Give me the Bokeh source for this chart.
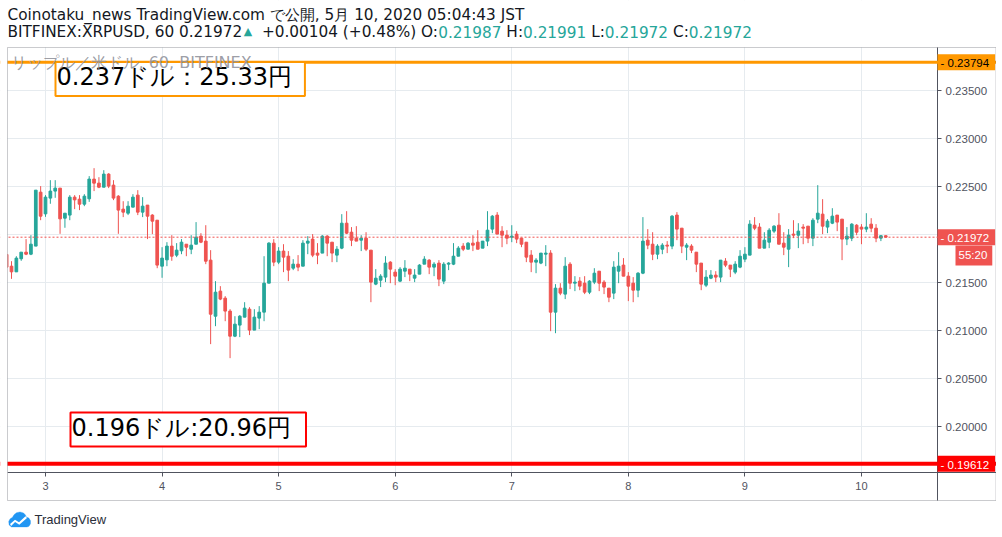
from bokeh.plotting import figure
from bokeh.models import (Range1d, FixedTicker, PrintfTickFormatter, Span, Label,
                          BoxAnnotation, PolyAnnotation, ColumnDataSource)
from bokeh.embed import file_html
from bokeh.resources import INLINE

# ---------------- data (hourly candles, hour 0 = May 3 00:00 JST) ----------------
hours = list(range(-8, 174))

opens = [
    0.21792, 0.21670, 0.21611, 0.21747, 0.21816, 0.21795, 0.21879, 0.22441, 0.22215, 0.22379,
    0.22452, 0.22483, 0.22170, 0.22202, 0.22389, 0.22368, 0.22316, 0.22372, 0.22577, 0.22535,
    0.22493, 0.22629, 0.22514, 0.22399, 0.22264, 0.22222, 0.22285, 0.22410, 0.22233, 0.22306,
    0.22202, 0.22149, 0.21670, 0.21736, 0.21879, 0.21785, 0.21830, 0.21899, 0.21847, 0.21899,
    0.21983, 0.21931, 0.21733, 0.21149, 0.21410, 0.21337, 0.21202, 0.20941, 0.21056, 0.21139,
    0.21222, 0.21004, 0.21129, 0.21191, 0.21493, 0.21910, 0.21712, 0.21827, 0.21774, 0.21649,
    0.21691, 0.21670, 0.21910, 0.21952, 0.21806, 0.21806, 0.21983, 0.21920, 0.21785, 0.21858,
    0.22118, 0.22024, 0.21962, 0.21941, 0.21962, 0.21837, 0.21483, 0.21524, 0.21556, 0.21712,
    0.21608, 0.21514, 0.21618, 0.21639, 0.21545, 0.21587, 0.21691, 0.21733, 0.21660, 0.21702,
    0.21514, 0.21691, 0.21691, 0.21774, 0.21879, 0.21847, 0.21910, 0.21920, 0.21858, 0.21931,
    0.22056, 0.22202, 0.22035, 0.21993, 0.21972, 0.22004, 0.21962, 0.21920, 0.21785, 0.21712,
    0.21702, 0.21795, 0.21806, 0.21191, 0.21441, 0.21379, 0.21691, 0.21493, 0.21514, 0.21493,
    0.21399, 0.21504, 0.21618, 0.21504, 0.21441, 0.21389, 0.21618, 0.21681, 0.21566, 0.21493,
    0.21420, 0.21597, 0.21941, 0.21899, 0.21795, 0.21847, 0.21889, 0.21879, 0.22202, 0.22066,
    0.21868, 0.21879, 0.21816, 0.21702, 0.21472, 0.21545, 0.21577, 0.21556, 0.21722, 0.21681,
    0.21608, 0.21660, 0.21743, 0.21785, 0.22097, 0.22077, 0.21858, 0.21920, 0.22035, 0.22097,
    0.21910, 0.21847, 0.22004, 0.21993, 0.22077, 0.22087, 0.21962, 0.22160, 0.22212, 0.22077,
    0.22118, 0.22202, 0.22160, 0.21952, 0.21962, 0.22097, 0.22077, 0.22056, 0.22108, 0.22066,
    0.21962, 0.21987,
]
highs = [
    0.21792, 0.21722, 0.21774, 0.21816, 0.21952, 0.21993, 0.22462, 0.22504, 0.22410, 0.22566,
    0.22566, 0.22483, 0.22222, 0.22410, 0.22410, 0.22410, 0.22420, 0.22608, 0.22691, 0.22597,
    0.22670, 0.22639, 0.22566, 0.22410, 0.22347, 0.22347, 0.22420, 0.22462, 0.22389, 0.22306,
    0.22212, 0.22149, 0.21868, 0.21920, 0.21993, 0.21910, 0.21952, 0.21899, 0.21993, 0.22129,
    0.22014, 0.22097, 0.21837, 0.21514, 0.21462, 0.21358, 0.21222, 0.21149, 0.21160, 0.21295,
    0.21243, 0.21222, 0.21254, 0.21774, 0.21920, 0.21952, 0.21868, 0.21899, 0.21827, 0.21743,
    0.21785, 0.21941, 0.21983, 0.22004, 0.21910, 0.21993, 0.21993, 0.21920, 0.21879, 0.22212,
    0.22243, 0.22077, 0.22087, 0.21993, 0.22024, 0.21837, 0.21639, 0.21587, 0.21774, 0.21722,
    0.21639, 0.21660, 0.21733, 0.21639, 0.21639, 0.21691, 0.21774, 0.21743, 0.21712, 0.21733,
    0.21712, 0.21712, 0.21910, 0.21879, 0.21910, 0.21920, 0.21993, 0.22045, 0.21931, 0.22243,
    0.22202, 0.22233, 0.22087, 0.22045, 0.22097, 0.22035, 0.21962, 0.21920, 0.21837, 0.21754,
    0.21806, 0.21889, 0.21837, 0.21483, 0.21493, 0.21764, 0.21712, 0.21566, 0.21556, 0.21566,
    0.21524, 0.21649, 0.21618, 0.21524, 0.21441, 0.21722, 0.21816, 0.21754, 0.21608, 0.21556,
    0.21608, 0.22181, 0.22056, 0.22024, 0.21899, 0.21910, 0.21931, 0.22202, 0.22233, 0.22066,
    0.21910, 0.21899, 0.21816, 0.21702, 0.21629, 0.21629, 0.21618, 0.21733, 0.21754, 0.21681,
    0.21722, 0.21837, 0.21868, 0.22149, 0.22181, 0.22118, 0.22024, 0.22066, 0.22097, 0.22222,
    0.22024, 0.22056, 0.22149, 0.22118, 0.22108, 0.22087, 0.22170, 0.22514, 0.22368, 0.22160,
    0.22274, 0.22202, 0.22160, 0.22077, 0.22118, 0.22108, 0.22108, 0.22222, 0.22170, 0.22108,
    0.21993, 0.21991,
]
lows = [
    0.21660, 0.21538, 0.21611, 0.21726, 0.21785, 0.21785, 0.21879, 0.22149, 0.22184, 0.22320,
    0.22382, 0.22007, 0.22070, 0.22149, 0.22264, 0.22254, 0.22295, 0.22340, 0.22452, 0.22483,
    0.22493, 0.22483, 0.22358, 0.22007, 0.22181, 0.22202, 0.22285, 0.22202, 0.22181, 0.21952,
    0.22004, 0.21649, 0.21549, 0.21670, 0.21726, 0.21764, 0.21795, 0.21774, 0.21795, 0.21899,
    0.21910, 0.21691, 0.20858, 0.21045, 0.21316, 0.21097, 0.20712, 0.20931, 0.20931, 0.21139,
    0.20952, 0.21004, 0.21014, 0.21097, 0.21493, 0.21670, 0.21691, 0.21608, 0.21514, 0.21629,
    0.21618, 0.21670, 0.21795, 0.21764, 0.21691, 0.21806, 0.21774, 0.21712, 0.21712, 0.21847,
    0.22004, 0.21879, 0.21931, 0.21827, 0.21827, 0.21295, 0.21472, 0.21452, 0.21504, 0.21493,
    0.21472, 0.21504, 0.21556, 0.21514, 0.21504, 0.21587, 0.21691, 0.21587, 0.21566, 0.21462,
    0.21483, 0.21629, 0.21681, 0.21774, 0.21827, 0.21847, 0.21827, 0.21847, 0.21858, 0.21879,
    0.22014, 0.22004, 0.21868, 0.21899, 0.21920, 0.21910, 0.21868, 0.21712, 0.21608, 0.21597,
    0.21691, 0.21670, 0.20993, 0.20972, 0.21368, 0.21327, 0.21431, 0.21410, 0.21420, 0.21379,
    0.21379, 0.21483, 0.21410, 0.21379, 0.21295, 0.21327, 0.21493, 0.21566, 0.21306, 0.21295,
    0.21347, 0.21587, 0.21847, 0.21733, 0.21743, 0.21795, 0.21806, 0.21847, 0.21941, 0.21806,
    0.21733, 0.21806, 0.21608, 0.21420, 0.21452, 0.21535, 0.21504, 0.21504, 0.21660, 0.21556,
    0.21587, 0.21649, 0.21712, 0.21785, 0.22045, 0.21858, 0.21858, 0.21858, 0.22014, 0.21899,
    0.21785, 0.21660, 0.21962, 0.21858, 0.21899, 0.21910, 0.21879, 0.22118, 0.22004, 0.22014,
    0.22108, 0.22035, 0.21733, 0.21889, 0.21931, 0.21993, 0.21899, 0.22024, 0.22024, 0.21920,
    0.21931, 0.21972,
]
closes = [
    0.21660, 0.21611, 0.21754, 0.21816, 0.21795, 0.21899, 0.22462, 0.22191, 0.22389, 0.22452,
    0.22483, 0.22163, 0.22222, 0.22389, 0.22361, 0.22316, 0.22399, 0.22577, 0.22535, 0.22493,
    0.22629, 0.22504, 0.22379, 0.22254, 0.22233, 0.22295, 0.22389, 0.22233, 0.22295, 0.22191,
    0.22139, 0.21681, 0.21754, 0.21879, 0.21774, 0.21837, 0.21920, 0.21868, 0.21889, 0.21972,
    0.21920, 0.21722, 0.21170, 0.21399, 0.21327, 0.21202, 0.20941, 0.21066, 0.21149, 0.21233,
    0.21004, 0.21139, 0.21191, 0.21493, 0.21910, 0.21712, 0.21827, 0.21764, 0.21629, 0.21691,
    0.21660, 0.21910, 0.21931, 0.21785, 0.21785, 0.21983, 0.21910, 0.21806, 0.21847, 0.22118,
    0.22014, 0.21941, 0.21931, 0.21962, 0.21847, 0.21504, 0.21545, 0.21566, 0.21702, 0.21639,
    0.21566, 0.21639, 0.21649, 0.21587, 0.21577, 0.21681, 0.21743, 0.21660, 0.21691, 0.21535,
    0.21691, 0.21702, 0.21774, 0.21858, 0.21847, 0.21910, 0.21889, 0.21847, 0.21931, 0.22045,
    0.22191, 0.22004, 0.21993, 0.21962, 0.21983, 0.21952, 0.21899, 0.21764, 0.21712, 0.21733,
    0.21806, 0.21806, 0.21191, 0.21441, 0.21389, 0.21670, 0.21493, 0.21504, 0.21462, 0.21399,
    0.21514, 0.21597, 0.21493, 0.21452, 0.21347, 0.21660, 0.21670, 0.21566, 0.21462, 0.21420,
    0.21597, 0.21931, 0.21889, 0.21795, 0.21879, 0.21889, 0.21879, 0.22191, 0.22056, 0.21879,
    0.21889, 0.21837, 0.21691, 0.21483, 0.21556, 0.21577, 0.21556, 0.21733, 0.21681, 0.21639,
    0.21691, 0.21774, 0.21795, 0.22108, 0.22066, 0.21858, 0.21941, 0.22045, 0.22087, 0.21899,
    0.21868, 0.21993, 0.21993, 0.22035, 0.22066, 0.21962, 0.22149, 0.22222, 0.22087, 0.22139,
    0.22191, 0.22129, 0.21952, 0.21983, 0.22108, 0.22024, 0.22056, 0.22077, 0.22066, 0.21962,
    0.21987, 0.21972,
]

day_ticks = [0, 24, 48, 72, 96, 120, 144, 168]
day_labels = ["3", "4", "5", "6", "7", "8", "9", "10"]
price_ticks = [0.200, 0.205, 0.210, 0.215, 0.220, 0.225, 0.230, 0.235]

resistance_level = 0.23794
support_level = 0.19612
resistance_note = "0.237ドル：25.33円"
support_note = "0.196ドル:20.96円"
timer_text = "55:20"
watermark_text = "リップル／米ドル, 60, BITFINEX"
header_line1 = "Coinotaku_news TradingView.com で公開, 5月 10, 2020 05:04:43 JST"
symbol_text = "BITFINEX:XRPUSD, 60"
change_text = "+0.00104 (+0.48%)"

# ---------------- styling / geometry ----------------
UP, DOWN = "#26a69a", "#ef5350"
DARK = "#131722"
AXIS = "#50535e"
GRID = "#e6ebef"

W, H = 996, 530
# chart area (pane) in canvas pixels
PL, PR, PT, PB = 7, 937, 47, 472
BOX_R, BOX_B = 995.5, 500
# scale: hour 0 at x=45px, 4.857 px per hour; price 0.235 at y=90px, 9600 px per unit
HOUR0_PX, HOUR_PX = 45.0, 4.857
PREF, PREF_PX, PRICE_PX = 0.235, 90.0, 9600.0


def px2x(px):
    return (px - HOUR0_PX) / HOUR_PX


def py2y(py):
    return PREF - (py - PREF_PX) / PRICE_PX


p = figure(width=W, height=H, output_backend="svg", toolbar_location=None,
           x_range=Range1d(px2x(0), px2x(W)), y_range=Range1d(py2y(H), py2y(0)),
           y_axis_location="right", min_border=0,
           background_fill_color="white", border_fill_color="white")
p.outline_line_color = None

# axes, placed at the edges of the chart pane
p.xaxis.ticker = FixedTicker(ticks=day_ticks)
p.xaxis.major_label_overrides = {t: l for t, l in zip(day_ticks, day_labels)}
p.yaxis.ticker = FixedTicker(ticks=price_ticks)
p.yaxis.formatter = PrintfTickFormatter(format="%.5f")
p.xaxis.fixed_location = py2y(PB)
p.yaxis.fixed_location = px2x(PR)
p.xaxis.bounds = (px2x(PL), px2x(BOX_R))
p.yaxis.bounds = (py2y(BOX_B), py2y(PT))
for ax in (p.xaxis[0], p.yaxis[0]):
    ax.axis_line_color = AXIS
    ax.major_tick_line_color = AXIS
    ax.major_tick_out = 4
    ax.major_tick_in = 0
    ax.minor_tick_line_color = None
    ax.major_label_text_color = AXIS
    ax.major_label_text_font = "Liberation Sans"
p.yaxis.major_label_text_font_size = "11.5px"
p.yaxis.major_label_standoff = 4
p.xaxis.major_label_text_font_size = "11px"
p.xaxis.major_label_standoff = 5

p.xgrid.ticker = FixedTicker(ticks=day_ticks)
p.ygrid.ticker = FixedTicker(ticks=price_ticks)
p.xgrid.grid_line_color = GRID
p.ygrid.grid_line_color = GRID

# white masks so that the grid stays inside the chart pane
for l, r, t, b in [(0, W, 0, PT), (0, W, PB, H), (PR, W, PT, PB)]:
    p.add_layout(BoxAnnotation(left=px2x(l), right=px2x(r), top=py2y(t), bottom=py2y(b),
                               fill_color="white", fill_alpha=1, line_color=None,
                               level="underlay"))

# candles
colors = [UP if c >= o else DOWN for o, c in zip(opens, closes)]
src = ColumnDataSource(dict(
    x=hours, o=opens, h=highs, l=lows, c=closes, color=colors,
    top=[max(o, c) for o, c in zip(opens, closes)],
    bottom=[min(o, c) for o, c in zip(opens, closes)],
))
p.segment(x0="x", y0="h", x1="x", y1="l", line_color="color", line_width=1, source=src)
p.vbar(x="x", width=0.55, top="top", bottom="bottom", fill_color="color",
       line_color="color", line_width=1, source=src)

last_price = closes[-1]
p.add_layout(Span(location=last_price, dimension="width", line_color=DOWN,
                  line_width=1, line_dash="2 2"))
p.add_layout(Span(location=resistance_level, dimension="width", line_color="#ff9800", line_width=3))
p.add_layout(Span(location=support_level, dimension="width", line_color="#ff0000", line_width=4))

# left margin mask (covers the half-visible first candle and line ends)
p.add_layout(BoxAnnotation(left=px2x(0), right=px2x(PL), top=py2y(0), bottom=py2y(H),
                           fill_color="white", fill_alpha=1, line_color=None))

# notes
p.add_layout(Label(x=px2x(55), y=py2y(78.5), text=resistance_note, text_baseline="middle",
                   text_font="DejaVu Sans", text_font_size="24px", text_color="black",
                   background_fill_color="white", border_line_color="#ff9800",
                   border_line_width=2, padding=(1, 13, 1, 5)))
p.add_layout(Label(x=px2x(70), y=py2y(429), text=support_note, text_baseline="middle",
                   text_font="DejaVu Sans", text_font_size="24px", text_color="black",
                   background_fill_color="white", border_line_color="#ff0000",
                   border_line_width=2, padding=(1, 15, 1, 5)))

# watermark (legible over the level line and the note box edge)
p.add_layout(Label(x=px2x(10), y=py2y(62), text=watermark_text, text_baseline="middle",
                   text_font="DejaVu Sans", text_font_size="16px", text_color="#8f929b",
                   text_alpha=0.9))


# price tags on the right axis
def tag(yv, text, bg, fg, px=937, pad=(3, 6, 3, 1)):
    p.add_layout(Label(x=px2x(px), y=yv, text=text, text_baseline="middle",
                       text_font="Liberation Sans", text_font_size="11.5px", text_color=fg,
                       background_fill_color=bg, padding=pad))


tag(resistance_level, "- %.5f" % resistance_level, "#ff9800", "black")
tag(last_price, "- %.5f" % last_price, DOWN, "white")
tag(py2y(255), timer_text, DOWN, "white", px=955, pad=(3, 5, 3, 5))
tag(support_level, "- %.5f" % support_level, "#ff0000", "white")

# pane borders
p.add_layout(BoxAnnotation(left=px2x(PL), right=px2x(BOX_R), top=py2y(PT), bottom=py2y(BOX_B),
                           fill_color=None, line_color=AXIS, line_width=1))

# header
HFS = 15.3
p.add_layout(Label(x=px2x(7), y=py2y(14), text=header_line1, text_baseline="middle",
                   text_font="DejaVu Sans", text_font_size="%.1fpx" % HFS, text_color=DARK))

DJV = {'0': 636, '1': 636, '2': 636, '3': 636, '4': 636, '5': 636, '6': 636, '7': 636,
       '8': 636, '9': 636, '.': 318, ':': 337, ',': 318, ' ': 318, '(': 390, ')': 390,
       '+': 838, '%': 950, 'B': 686, 'I': 295, 'T': 611, 'F': 575, 'N': 748, 'E': 632,
       'X': 685, 'R': 695, 'P': 603, 'U': 732, 'S': 635, 'D': 770, 'O': 787, 'H': 752,
       'L': 557, 'C': 698, '▲': 770}


def tw(s, fs=HFS):
    return sum(DJV.get(ch, 600) for ch in s) * fs / 1000.0


pieces = [
    (symbol_text + " " + "%.5f" % last_price, DARK, 0.0),
    ("▲", UP, tw(" ")),
    (change_text + " O:", DARK, 0.0),
    ("%.5f" % opens[-1], UP, tw(" ")),
    ("H:", DARK, 0.0),
    ("%.5f" % highs[-1], UP, tw(" ")),
    ("L:", DARK, 0.0),
    ("%.5f" % lows[-1], UP, tw(" ")),
    ("C:", DARK, 0.0),
    ("%.5f" % closes[-1], UP, 0.0),
]
cx = 7.0
for text, col, gap in pieces:
    small = text == "▲"
    p.add_layout(Label(x=px2x(cx + (1.5 if small else 0)), y=py2y(31), text=text,
                       text_baseline="middle", text_font="DejaVu Sans",
                       text_font_size="11px" if small else "%.1fpx" % HFS, text_color=col))
    cx += tw(text) + gap + (3 if small else 0)

# TradingView logo
cloud = [(11, 526.5), (8.6, 524.5), (8.2, 521), (9.5, 518.4), (12, 516.8), (13.5, 514.2),
         (16, 512.2), (19.5, 511.4), (23, 512.4), (25, 514.6), (25.8, 516.6), (28.4, 517.6),
         (30, 520.2), (30, 523.2), (28.5, 525.8), (26.5, 526.5)]
p.add_layout(PolyAnnotation(xs=[px2x(a) for a, b in cloud], ys=[py2y(b) for a, b in cloud],
                            fill_color="#2196f3", fill_alpha=1, line_color="#2196f3",
                            line_width=1))
zig = [(9.5, 523.6), (14.5, 519.2), (18.5, 521.8), (25, 515.8), (26.5, 517.4),
       (18.8, 524.2), (14.6, 521.4), (10.6, 525.4)]
p.add_layout(PolyAnnotation(xs=[px2x(a) for a, b in zig], ys=[py2y(b) for a, b in zig],
                            fill_color="white", fill_alpha=1, line_color=None))
p.add_layout(Label(x=px2x(34), y=py2y(519), text="TradingView", text_baseline="middle",
                   text_font="Liberation Sans", text_font_size="13px", text_color="#2a2e39"))

open("out.html", "w").write(file_html(p, INLINE))
